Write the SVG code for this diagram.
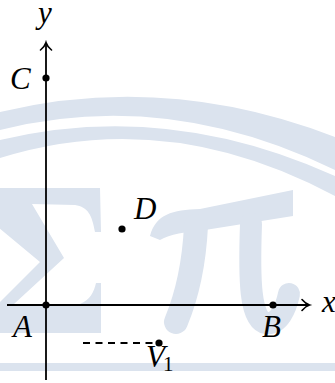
<svg xmlns="http://www.w3.org/2000/svg" width="335" height="383" viewBox="0 0 335 383">
  <style>
    .wm { fill: #dbe3ee; stroke: none; }
    .wms { fill: none; stroke: #dbe3ee; stroke-linecap: round; }
    .axis { fill: none; stroke: #000; stroke-width: 1.8; }
    .dash { fill: none; stroke: #000; stroke-width: 1.8; stroke-dasharray: 7 5.5; }
    .dot { fill: #000; }
  </style>
  <defs>
    <marker id="arr" markerUnits="userSpaceOnUse" markerWidth="14" markerHeight="14" viewBox="-9 -7 11 14" refX="0" refY="0" orient="auto">
      <path d="M-7,-5.5 C-4.5,-2.5 -1.5,-0.6 0.5,0 C-1.5,0.6 -4.5,2.5 -7,5.5" fill="none" stroke="#000" stroke-width="1.6" stroke-linecap="round"/>
    </marker>
  </defs>
  <rect width="335" height="383" fill="#fff"/>
  <g id="watermark">
    <path class="wm" d="M0,112 Q167,72 335,137 L335,170 Q167,88 0,130 Z"/>
    <path class="wm" d="M0,140 Q167,100 335,176 L335,196 Q167,106 0,158 Z"/>
    <path class="wm" d="M-20,188 L100,188 L101,232 L95,232 C92,215 88,207 75,205 L32,204 L64,258 L14,304 L80,304 C90,300 94,292 96,283 L101,283 L101,333 L-20,333 L-20,322 L40,262 L-20,212 Z"/>
    <path class="wm" d="M150,236 C156,214 172,210 200,209 L293,190 L293,216 L205,230 C185,232 170,234 160,240 Z"/>
    <path class="wms" stroke-width="24" d="M196,226 C194,266 186,298 176,322"/>
    <path class="wms" stroke-width="22" d="M251,224 C249,280 250,320 266,323 C279,325 286,308 289,294"/>
    <rect class="wm" x="0" y="363" width="335" height="8"/>
  </g>
  <g id="connectors">
    <path class="axis" d="M7,305 L309,305" marker-end="url(#arr)"/>
    <path class="axis" d="M46,380 L46,43" marker-end="url(#arr)"/>
    <path class="dash" d="M83,343 L159,343"/>
  </g>
  <g font-family="'Liberation Serif', serif" font-style="italic" font-size="31" fill="#000">
    <g id="node-A"><circle class="dot" cx="46" cy="305" r="3.6"/><text x="13" y="337">A</text></g>
    <g id="node-B"><circle class="dot" cx="273" cy="305" r="3.6"/><text x="262" y="337">B</text></g>
    <g id="node-C"><circle class="dot" cx="46" cy="78" r="3.6"/><text x="10" y="89">C</text></g>
    <g id="node-D"><circle class="dot" cx="122" cy="229" r="3.6"/><text x="134" y="219">D</text></g>
    <g id="node-V1"><circle class="dot" cx="159" cy="343" r="3.6"/><text x="146" y="367">V<tspan font-style="normal" font-size="21" dx="-2" dy="4">1</tspan></text></g>
    <g id="label-x"><text x="322" y="312">x</text></g>
    <g id="label-y"><text x="38" y="23">y</text></g>
  </g>
</svg>
